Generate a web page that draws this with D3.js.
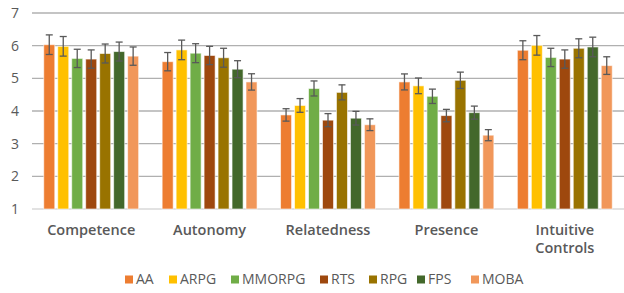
<!DOCTYPE html>
<html>
<head>
<meta charset="utf-8">
<script src="https://cdn.jsdelivr.net/npm/d3@7"></script>
<style>
  body { margin: 0; background: #fff; }
  text { font-family: "Open Sans", sans-serif; }
</style>
</head>
<body>
<svg id="svg1" width="624" height="293"></svg>
<script>
var categories = ['Competence', 'Autonomy', 'Relatedness', 'Presence', 'Intuitive Controls'];
var genres = ['AA', 'ARPG', 'MMORPG', 'RTS', 'RPG', 'FPS', 'MOBA'];
var colors = ['#ED7D31', '#FFC000', '#70AD47', '#9E480E', '#997300', '#43682B', '#F1975A'];
var yTicks = [1, 2, 3, 4, 5, 6, 7];

// mean per genre, one array per category
var competence = [6.03, 5.98, 5.61, 5.59, 5.76, 5.82, 5.68];
var autonomy = [5.51, 5.87, 5.77, 5.70, 5.63, 5.28, 4.89];
var relatedness = [3.88, 4.17, 4.69, 3.72, 4.57, 3.78, 3.58];
var presence = [4.89, 4.77, 4.45, 3.86, 4.94, 3.95, 3.26];
var intuitive = [5.86, 6.01, 5.64, 5.59, 5.92, 5.96, 5.39];

// error (half length of the bar)
var competenceErr = [0.30, 0.30, 0.28, 0.28, 0.29, 0.29, 0.28];
var autonomyErr = [0.28, 0.30, 0.29, 0.28, 0.29, 0.26, 0.25];
var relatednessErr = [0.19, 0.21, 0.23, 0.20, 0.23, 0.21, 0.18];
var presenceErr = [0.245, 0.24, 0.22, 0.19, 0.25, 0.20, 0.17];
var intuitiveErr = [0.29, 0.30, 0.28, 0.28, 0.29, 0.30, 0.27];

var means = [competence, autonomy, relatedness, presence, intuitive];
var errs = [competenceErr, autonomyErr, relatednessErr, presenceErr, intuitiveErr];

var data = [];
categories.forEach(function(c, i) {
  genres.forEach(function(g, j) {
    data.push({cat: c, genre: g, value: means[i][j], err: errs[i][j]});
  });
});

var svg = d3.select('#svg1');

var plotLeft = 32, plotRight = 624, plotTop = 13, plotBottom = 209;

var scaleX = d3.scaleBand().domain(categories).range([plotLeft, plotRight]);
var scaleG = d3.scaleBand().domain(genres).range([0, scaleX.bandwidth()]).paddingInner(0.21).paddingOuter(0.84);
var scaleY = d3.scaleLinear().domain([1, 7]).range([plotBottom, plotTop]);
var color = d3.scaleOrdinal().domain(genres).range(colors);

// gridlines
svg.append('g')
  .selectAll('line')
  .data(yTicks.slice(1))
  .enter()
  .append('line')
  .attr('x1', plotLeft)
  .attr('x2', plotRight)
  .attr('y1', function(d) { return scaleY(d); })
  .attr('y2', function(d) { return scaleY(d); })
  .attr('stroke', '#b0b0b0')
  .attr('stroke-width', 1.3);

svg.append('line')
  .attr('x1', plotLeft).attr('x2', plotRight)
  .attr('y1', scaleY(1)).attr('y2', scaleY(1))
  .attr('stroke', '#d9d9d9')
  .attr('stroke-width', 1.5);

// y labels
svg.append('g')
  .selectAll('text')
  .data(yTicks)
  .enter()
  .append('text')
  .attr('x', 15)
  .attr('y', function(d) { return scaleY(d); })
  .attr('dy', '0.35em')
  .attr('text-anchor', 'middle')
  .attr('font-size', 14)
  .attr('fill', '#595959')
  .text(function(d) { return d; });

// bars
svg.append('g')
  .selectAll('rect')
  .data(data)
  .enter()
  .append('rect')
  .attr('x', function(d) { return scaleX(d.cat) + scaleG(d.genre); })
  .attr('width', scaleG.bandwidth())
  .attr('y', function(d) { return scaleY(d.value); })
  .attr('height', function(d) { return scaleY(1) - scaleY(d.value); })
  .attr('fill', function(d) { return color(d.genre); })
  .attr('stroke', '#fff')
  .attr('stroke-opacity', 0.6)
  .attr('stroke-width', 1);

// error bars
var eb = svg.append('g')
  .selectAll('g')
  .data(data)
  .enter()
  .append('g')
  .attr('stroke', '#595959')
  .attr('stroke-width', 1.3);

function cx(d) { return scaleX(d.cat) + scaleG(d.genre) + scaleG.bandwidth() / 2; }

eb.append('line')
  .attr('x1', cx).attr('x2', cx)
  .attr('y1', function(d) { return scaleY(d.value + d.err); })
  .attr('y2', function(d) { return scaleY(d.value - d.err); });
eb.append('line')
  .attr('x1', function(d) { return cx(d) - 3.5; })
  .attr('x2', function(d) { return cx(d) + 3.5; })
  .attr('y1', function(d) { return scaleY(d.value + d.err); })
  .attr('y2', function(d) { return scaleY(d.value + d.err); });
eb.append('line')
  .attr('x1', function(d) { return cx(d) - 3.5; })
  .attr('x2', function(d) { return cx(d) + 3.5; })
  .attr('y1', function(d) { return scaleY(d.value - d.err); })
  .attr('y2', function(d) { return scaleY(d.value - d.err); });

// category labels
var catLabels = svg.append('g')
  .selectAll('text')
  .data(categories)
  .enter()
  .append('text')
  .attr('x', function(d) { return scaleX(d) + scaleX.bandwidth() / 2; })
  .attr('y', 235)
  .attr('text-anchor', 'middle')
  .attr('font-size', 14.5)
  .attr('font-weight', 600)
  .attr('fill', '#595959');

catLabels.each(function(d) {
  var words = d.split(' ');
  var t = d3.select(this);
  var x = scaleX(d) + scaleX.bandwidth() / 2;
  words.forEach(function(w, i) {
    t.append('tspan').attr('x', x).attr('dy', i === 0 ? 0 : 18).text(w);
  });
});

// legend
var legendX = [125, 169, 231, 320, 369, 417, 471];
var legend = svg.append('g')
  .selectAll('g')
  .data(genres)
  .enter()
  .append('g')
  .attr('transform', function(d, i) { return 'translate(' + legendX[i] + ',279.5)'; });

legend.append('rect')
  .attr('x', 0).attr('y', -4)
  .attr('width', 8).attr('height', 8)
  .attr('fill', function(d) { return color(d); });

legend.append('text')
  .attr('x', 11)
  .attr('dy', '0.35em')
  .attr('font-size', 14)
  .attr('fill', '#595959')
  .text(function(d) { return d; });
</script>
</body>
</html>
